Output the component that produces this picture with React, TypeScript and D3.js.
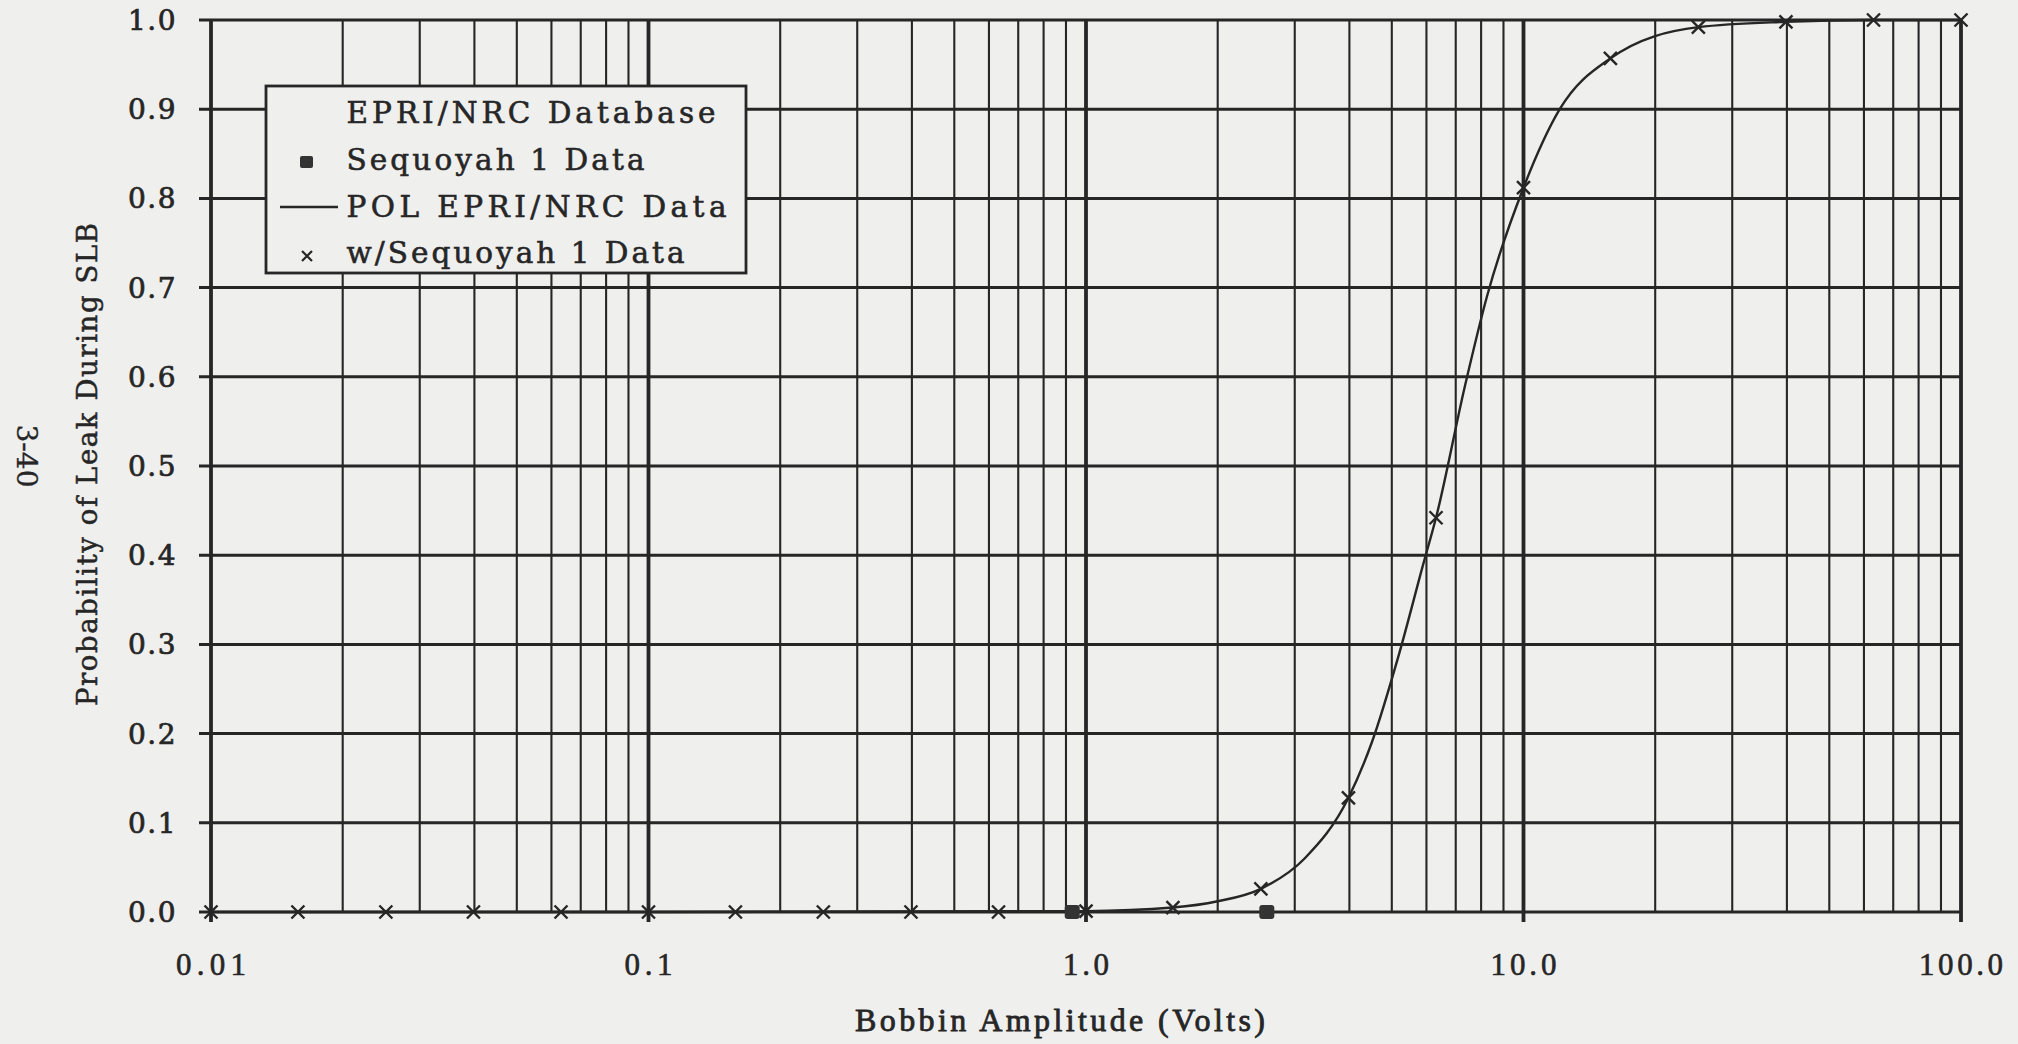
import React, { useEffect } from 'react';
import * as d3 from 'd3';

// ---- data -------------------------------------------------------------

// Sequoyah 1 field observations (bobbin volts, leak indicator)
const sequoyahVolts = [0.93, 2.59];
const sequoyahProb = [0, 0];

// POL curve fitted to the EPRI/NRC database
const polVolts = [0.01, 0.1, 1.0, 1.58, 2.0, 2.51, 3.16, 3.98, 4.5, 5.2, 5.9, 6.31, 7.35, 8.25, 10.0, 12.1, 15.8, 25.1, 39.8, 63.1, 100.0];
const polProb = [0, 0, 0.001, 0.005, 0.012, 0.026, 0.06, 0.128, 0.19, 0.29, 0.39, 0.442, 0.59, 0.69, 0.812, 0.9, 0.957, 0.992, 0.998, 1.0, 1.0];

// POL evaluated with the Sequoyah 1 data added
const withSeqVolts = [0.01, 0.0158, 0.0251, 0.0398, 0.0631, 0.1, 0.158, 0.251, 0.398, 0.631, 1.0, 1.58, 2.51, 3.98, 6.31, 10.0, 15.8, 25.1, 39.8, 63.1, 100.0];
const withSeqProb = [0, 0, 0, 0, 0, 0, 0, 0, 0, 0, 0.001, 0.005, 0.026, 0.128, 0.442, 0.812, 0.957, 0.992, 0.998, 1.0, 1.0];

const yTickValues = [0, 0.1, 0.2, 0.3, 0.4, 0.5, 0.6, 0.7, 0.8, 0.9, 1.0];
const yTickLabels = ['0.0', '0.1', '0.2', '0.3', '0.4', '0.5', '0.6', '0.7', '0.8', '0.9', '1.0'];
const xTickValues = [0.01, 0.1, 1, 10, 100];
const xTickLabels = ['0.01', '0.1', '1.0', '10.0', '100.0'];

const legendTitle = 'EPRI/NRC Database';
const legendLabels = ['Sequoyah 1 Data', 'POL EPRI/NRC Data', 'w/Sequoyah 1 Data'];

const xTitle = 'Bobbin Amplitude (Volts)';
const yTitle = 'Probability of Leak During SLB';
const pageNumber = '3-40';

// ---- layout -----------------------------------------------------------

const W = 2018;
const H = 1044;
const PLOT = { left: 211, right: 1961, top: 20, bottom: 912 };
const INK = '#262626';
const PAPER = '#efefee';
const SERIF = '"DejaVu Serif", "Liberation Serif", serif';
const TIMES = '"Liberation Serif", "DejaVu Serif", serif';

const xTickLabelWidths = [70, 48, 46, 66, 84];

function Cross({ cx, cy, r, sw }: { cx: number; cy: number; r: number; sw: number }) {
  return (
    <path
      d={`M${cx - r},${cy - r}L${cx + r},${cy + r}M${cx - r},${cy + r}L${cx + r},${cy - r}`}
      stroke={INK}
      strokeWidth={sw}
      fill="none"
    />
  );
}

export default function App() {
  useEffect(() => {
    document.body.style.margin = '0';
    document.body.style.overflow = 'hidden';
  }, []);

  const x = d3.scaleLog().domain([0.01, 100]).range([PLOT.left, PLOT.right]);
  const y = d3.scaleLinear().domain([0, 1]).range([PLOT.bottom, PLOT.top]);

  const allXTicks = x.ticks();
  const isDecade = (v: number) => Math.abs(Math.log10(v) - Math.round(Math.log10(v))) < 1e-9;

  const polLine = d3
    .line<number>()
    .x((_, i) => x(polVolts[i]))
    .y((_, i) => y(polProb[i]))
    .curve(d3.curveMonotoneX);

  const legend = { x: 266, y: 86, w: 480, h: 187 };
  const textX = 346.5;
  const legendText = { fontFamily: SERIF, fontSize: 29.5, fill: INK, stroke: INK, strokeWidth: 0.6 };

  return (
    <svg width={W} height={H} style={{ display: 'block', position: 'absolute', left: 0, top: 0 }}>
      <rect x={0} y={0} width={W} height={H} fill={PAPER} />

      {/* horizontal grid with outer ticks */}
      {yTickValues.map((v) => (
        <line
          key={`h${v}`}
          x1={PLOT.left - 12}
          x2={PLOT.right}
          y1={y(v)}
          y2={y(v)}
          stroke={INK}
          strokeWidth={3}
        />
      ))}

      {/* vertical grid: decades heavier, with ticks below the axis */}
      {allXTicks.map((v) => {
        const major = isDecade(v);
        return (
          <line
            key={`v${v}`}
            x1={x(v)}
            x2={x(v)}
            y1={PLOT.top}
            y2={major ? PLOT.bottom + 10 : PLOT.bottom}
            stroke={INK}
            strokeWidth={major ? 3.8 : 2.1}
          />
        );
      })}

      {/* y tick labels */}
      {yTickValues.map((v, i) => (
        <text
          key={`yl${v}`}
          x={177}
          y={y(v) + 10}
          textAnchor="end"
          fontFamily={SERIF}
          fontSize={28}
          letterSpacing={1.5}
          fill={INK}
          stroke={INK}
          strokeWidth={0.7}
        >
          {yTickLabels[i]}
        </text>
      ))}

      {/* x tick labels */}
      {xTickValues.map((v, i) => (
        <text
          key={`xl${v}`}
          x={x(v)}
          y={975}
          textAnchor="middle"
          fontFamily={TIMES}
          fontSize={31}
          textLength={xTickLabelWidths[i]}
          lengthAdjust="spacing"
          fill={INK}
          stroke={INK}
          strokeWidth={0.6}
        >
          {xTickLabels[i]}
        </text>
      ))}

      {/* axis titles */}
      <text
        x={1060}
        y={1031}
        textAnchor="middle"
        fontFamily={TIMES}
        fontSize={32}
        textLength={410}
        lengthAdjust="spacing"
        fill={INK}
        stroke={INK}
        strokeWidth={0.8}
      >
        {xTitle}
      </text>
      <text
        transform={`translate(97,${464.5}) rotate(-90)`}
        textAnchor="middle"
        fontFamily={SERIF}
        fontSize={27.5}
        textLength={483}
        lengthAdjust="spacing"
        fill={INK}
        stroke={INK}
        strokeWidth={0.5}
      >
        {yTitle}
      </text>
      <text
        transform={`translate(17,${456}) rotate(90)`}
        textAnchor="middle"
        fontFamily={SERIF}
        fontSize={28}
        fill={INK}
        stroke={INK}
        strokeWidth={0.3}
      >
        {pageNumber}
      </text>

      {/* POL curve */}
      <path d={polLine(polVolts) || ''} fill="none" stroke={INK} strokeWidth={2.4} />

      {/* POL with Sequoyah 1 data */}
      {withSeqVolts.map((v, i) => (
        <Cross key={`c${i}`} cx={x(v)} cy={y(withSeqProb[i])} r={6.5} sw={2.4} />
      ))}

      {/* Sequoyah 1 observations */}
      {sequoyahVolts.map((v, i) => (
        <rect
          key={`s${i}`}
          x={x(v) - 7.5}
          y={y(sequoyahProb[i]) - 7}
          width={15}
          height={14}
          rx={3}
          fill="#333"
        />
      ))}

      {/* legend */}
      <g>
        <rect x={legend.x} y={legend.y} width={legend.w} height={legend.h} fill={PAPER} stroke={INK} strokeWidth={2.8} />
        <text x={textX} y={123} {...legendText} textLength={369} lengthAdjust="spacing">
          {legendTitle}
        </text>
        <rect x={300} y={156} width={13} height={12} rx={2} fill="#333" />
        <text x={textX} y={170} {...legendText} textLength={298} lengthAdjust="spacing">
          {legendLabels[0]}
        </text>
        <line x1={280} x2={338} y1={207} y2={207} stroke={INK} strokeWidth={2.4} />
        <text x={textX} y={217} {...legendText} textLength={380} lengthAdjust="spacing">
          {legendLabels[1]}
        </text>
        <Cross cx={307} cy={256} r={5} sw={2.2} />
        <text x={textX} y={263} {...legendText} textLength={338} lengthAdjust="spacing">
          {legendLabels[2]}
        </text>
      </g>
    </svg>
  );
}
